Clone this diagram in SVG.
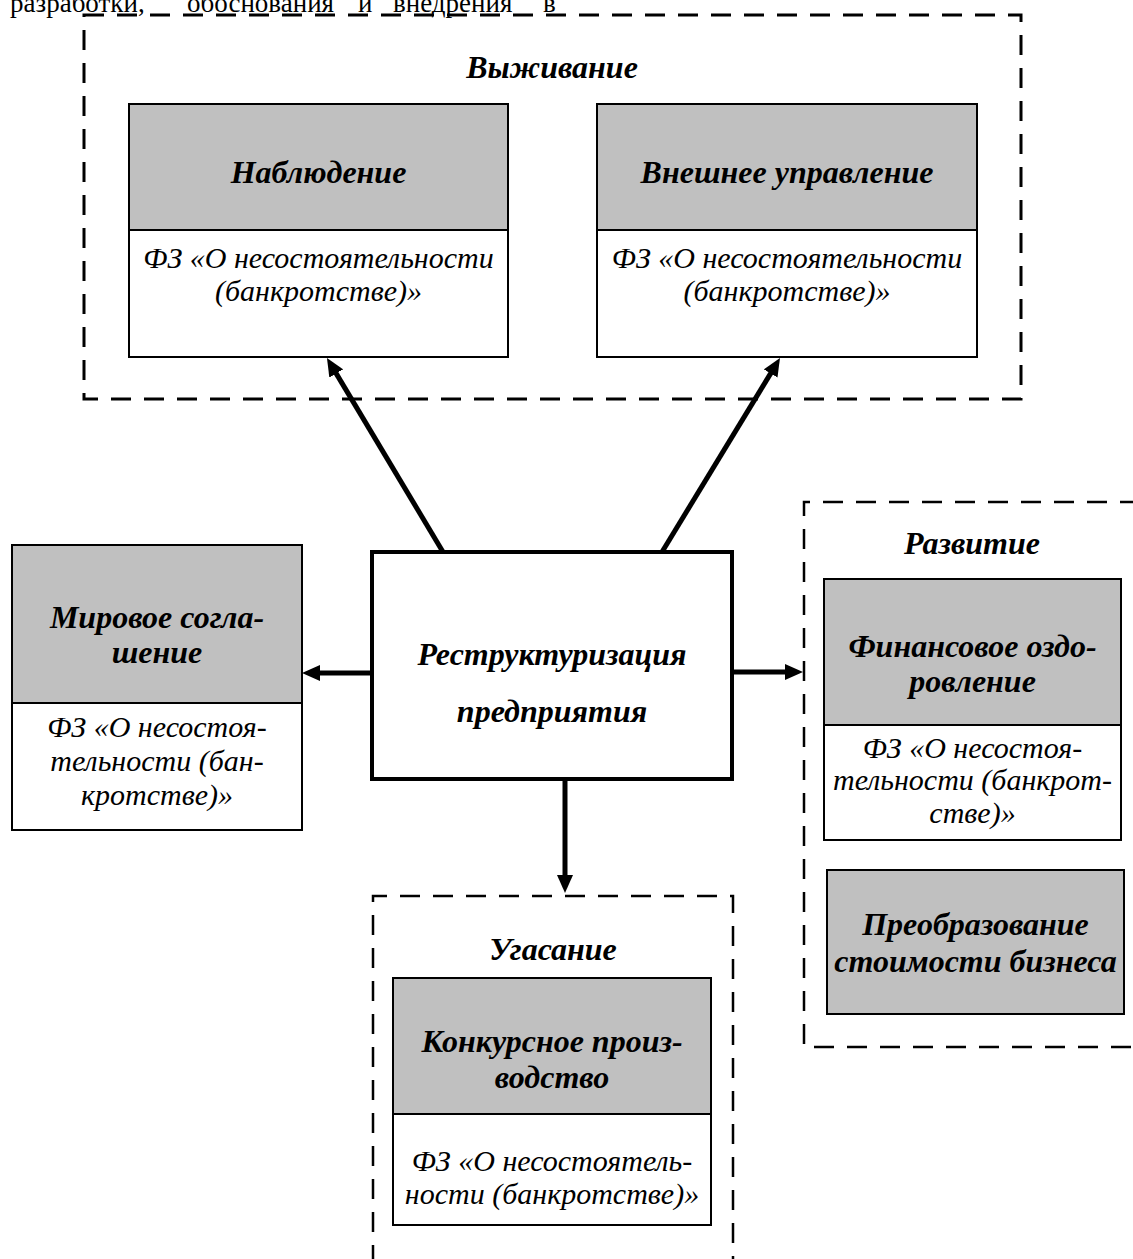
<svg xmlns="http://www.w3.org/2000/svg" width="1133" height="1259" viewBox="0 0 1133 1259">
<style>
.bg{fill:#ffffff}
.dash3{fill:none;stroke:#000;stroke-width:3;stroke-dasharray:20 13}
.dash2{fill:none;stroke:#000;stroke-width:2.5;stroke-dasharray:20 13}
.gray{fill:#c0c0c0;stroke:#000;stroke-width:2}
.white{fill:#fff;stroke:#000;stroke-width:2}
.main{fill:#fff;stroke:#000;stroke-width:4}
.t{font-family:"Liberation Serif","Times New Roman",serif;fill:#000;text-anchor:middle}
.bi{font-style:italic;font-weight:bold;font-size:32px}
.ri{font-style:italic;font-size:30px}
.body{font-family:"Liberation Serif","Times New Roman",serif;font-size:27px;fill:#000}
.arr{stroke:#000;stroke-width:5;fill:none;marker-end:url(#ah)}
</style>
<defs>
<marker id="ah" markerUnits="userSpaceOnUse" markerWidth="18" markerHeight="16" refX="8" refY="8" orient="auto">
<path d="M0,0 L18,8 L0,16 z" fill="#000"/>
</marker>
</defs>
<rect class="bg" x="0" y="0" width="1133" height="1259"/>

<g id="page-text">
<text class="body" x="10" y="12">разработки,</text>
<text class="body" x="187" y="12">обоснования</text>
<text class="body" x="358" y="12">и</text>
<text class="body" x="393" y="12">внедрения</text>
<text class="body" x="543" y="12">в</text>
</g>

<g id="group-survival">
<rect class="dash3" x="84" y="15" width="937" height="384"/>
<text class="t bi" x="552" y="78">Выживание</text>
</g>

<g id="node-observation">
<rect class="gray" x="129" y="104" width="379" height="126"/>
<rect class="white" x="129" y="230" width="379" height="127"/>
<text class="t bi" x="318.5" y="183">Наблюдение</text>
<text class="t ri" x="318.5" y="268">ФЗ «О несостоятельности</text>
<text class="t ri" x="318.5" y="301">(банкротстве)»</text>
</g>

<g id="node-external">
<rect class="gray" x="597" y="104" width="380" height="126"/>
<rect class="white" x="597" y="230" width="380" height="127"/>
<text class="t bi" x="787" y="183">Внешнее управление</text>
<text class="t ri" x="787" y="268">ФЗ «О несостоятельности</text>
<text class="t ri" x="787" y="301">(банкротстве)»</text>
</g>

<g id="node-settlement">
<rect class="gray" x="12" y="545" width="290" height="158"/>
<rect class="white" x="12" y="703" width="290" height="127"/>
<text class="t bi" x="157" y="628">Мировое согла-</text>
<text class="t bi" x="157" y="663">шение</text>
<text class="t ri" x="157" y="737">ФЗ «О несостоя-</text>
<text class="t ri" x="157" y="771">тельности (бан-</text>
<text class="t ri" x="157" y="805">кротстве)»</text>
</g>

<g id="node-restructuring">
<rect class="main" x="372" y="552" width="360" height="227"/>
<text class="t bi" x="552" y="665">Реструктуризация</text>
<text class="t bi" x="552" y="722">предприятия</text>
</g>

<g id="group-development">
<path class="dash2" d="M1140,502 H804 V1047 H1140"/>
<text class="t bi" x="972" y="554">Развитие</text>
</g>

<g id="node-recovery">
<rect class="gray" x="824" y="579" width="297" height="146"/>
<rect class="white" x="824" y="725" width="297" height="115"/>
<text class="t bi" x="972.5" y="657">Финансовое оздо-</text>
<text class="t bi" x="972.5" y="692">ровление</text>
<text class="t ri" x="972.5" y="758">ФЗ «О несостоя-</text>
<text class="t ri" x="972.5" y="790">тельности (банкрот-</text>
<text class="t ri" x="972.5" y="823">стве)»</text>
</g>

<g id="node-transformation">
<rect class="gray" x="827" y="870" width="297" height="144"/>
<text class="t bi" x="975.5" y="935">Преобразование</text>
<text class="t bi" x="975.5" y="972">стоимости бизнеса</text>
</g>

<g id="group-decline">
<path class="dash2" d="M373,1265 V896 H733 V1265"/>
<text class="t bi" x="553" y="960">Угасание</text>
</g>

<g id="node-bankruptcy">
<rect class="gray" x="393" y="978" width="318" height="136"/>
<rect class="white" x="393" y="1114" width="318" height="111"/>
<text class="t bi" x="552" y="1052">Конкурсное произ-</text>
<text class="t bi" x="552" y="1088">водство</text>
<text class="t ri" x="552" y="1171">ФЗ «О несостоятель-</text>
<text class="t ri" x="552" y="1204">ности (банкротстве)»</text>
</g>

<g id="connectors">
<line class="arr" x1="443" y1="552" x2="332.1" y2="366.6"/>
<line class="arr" x1="662" y1="552" x2="774.8" y2="366.6"/>
<line class="arr" x1="372" y1="673" x2="312" y2="673"/>
<line class="arr" x1="732" y1="672" x2="793" y2="672"/>
<line class="arr" x1="565" y1="779" x2="565" y2="883"/>
</g>
</svg>
